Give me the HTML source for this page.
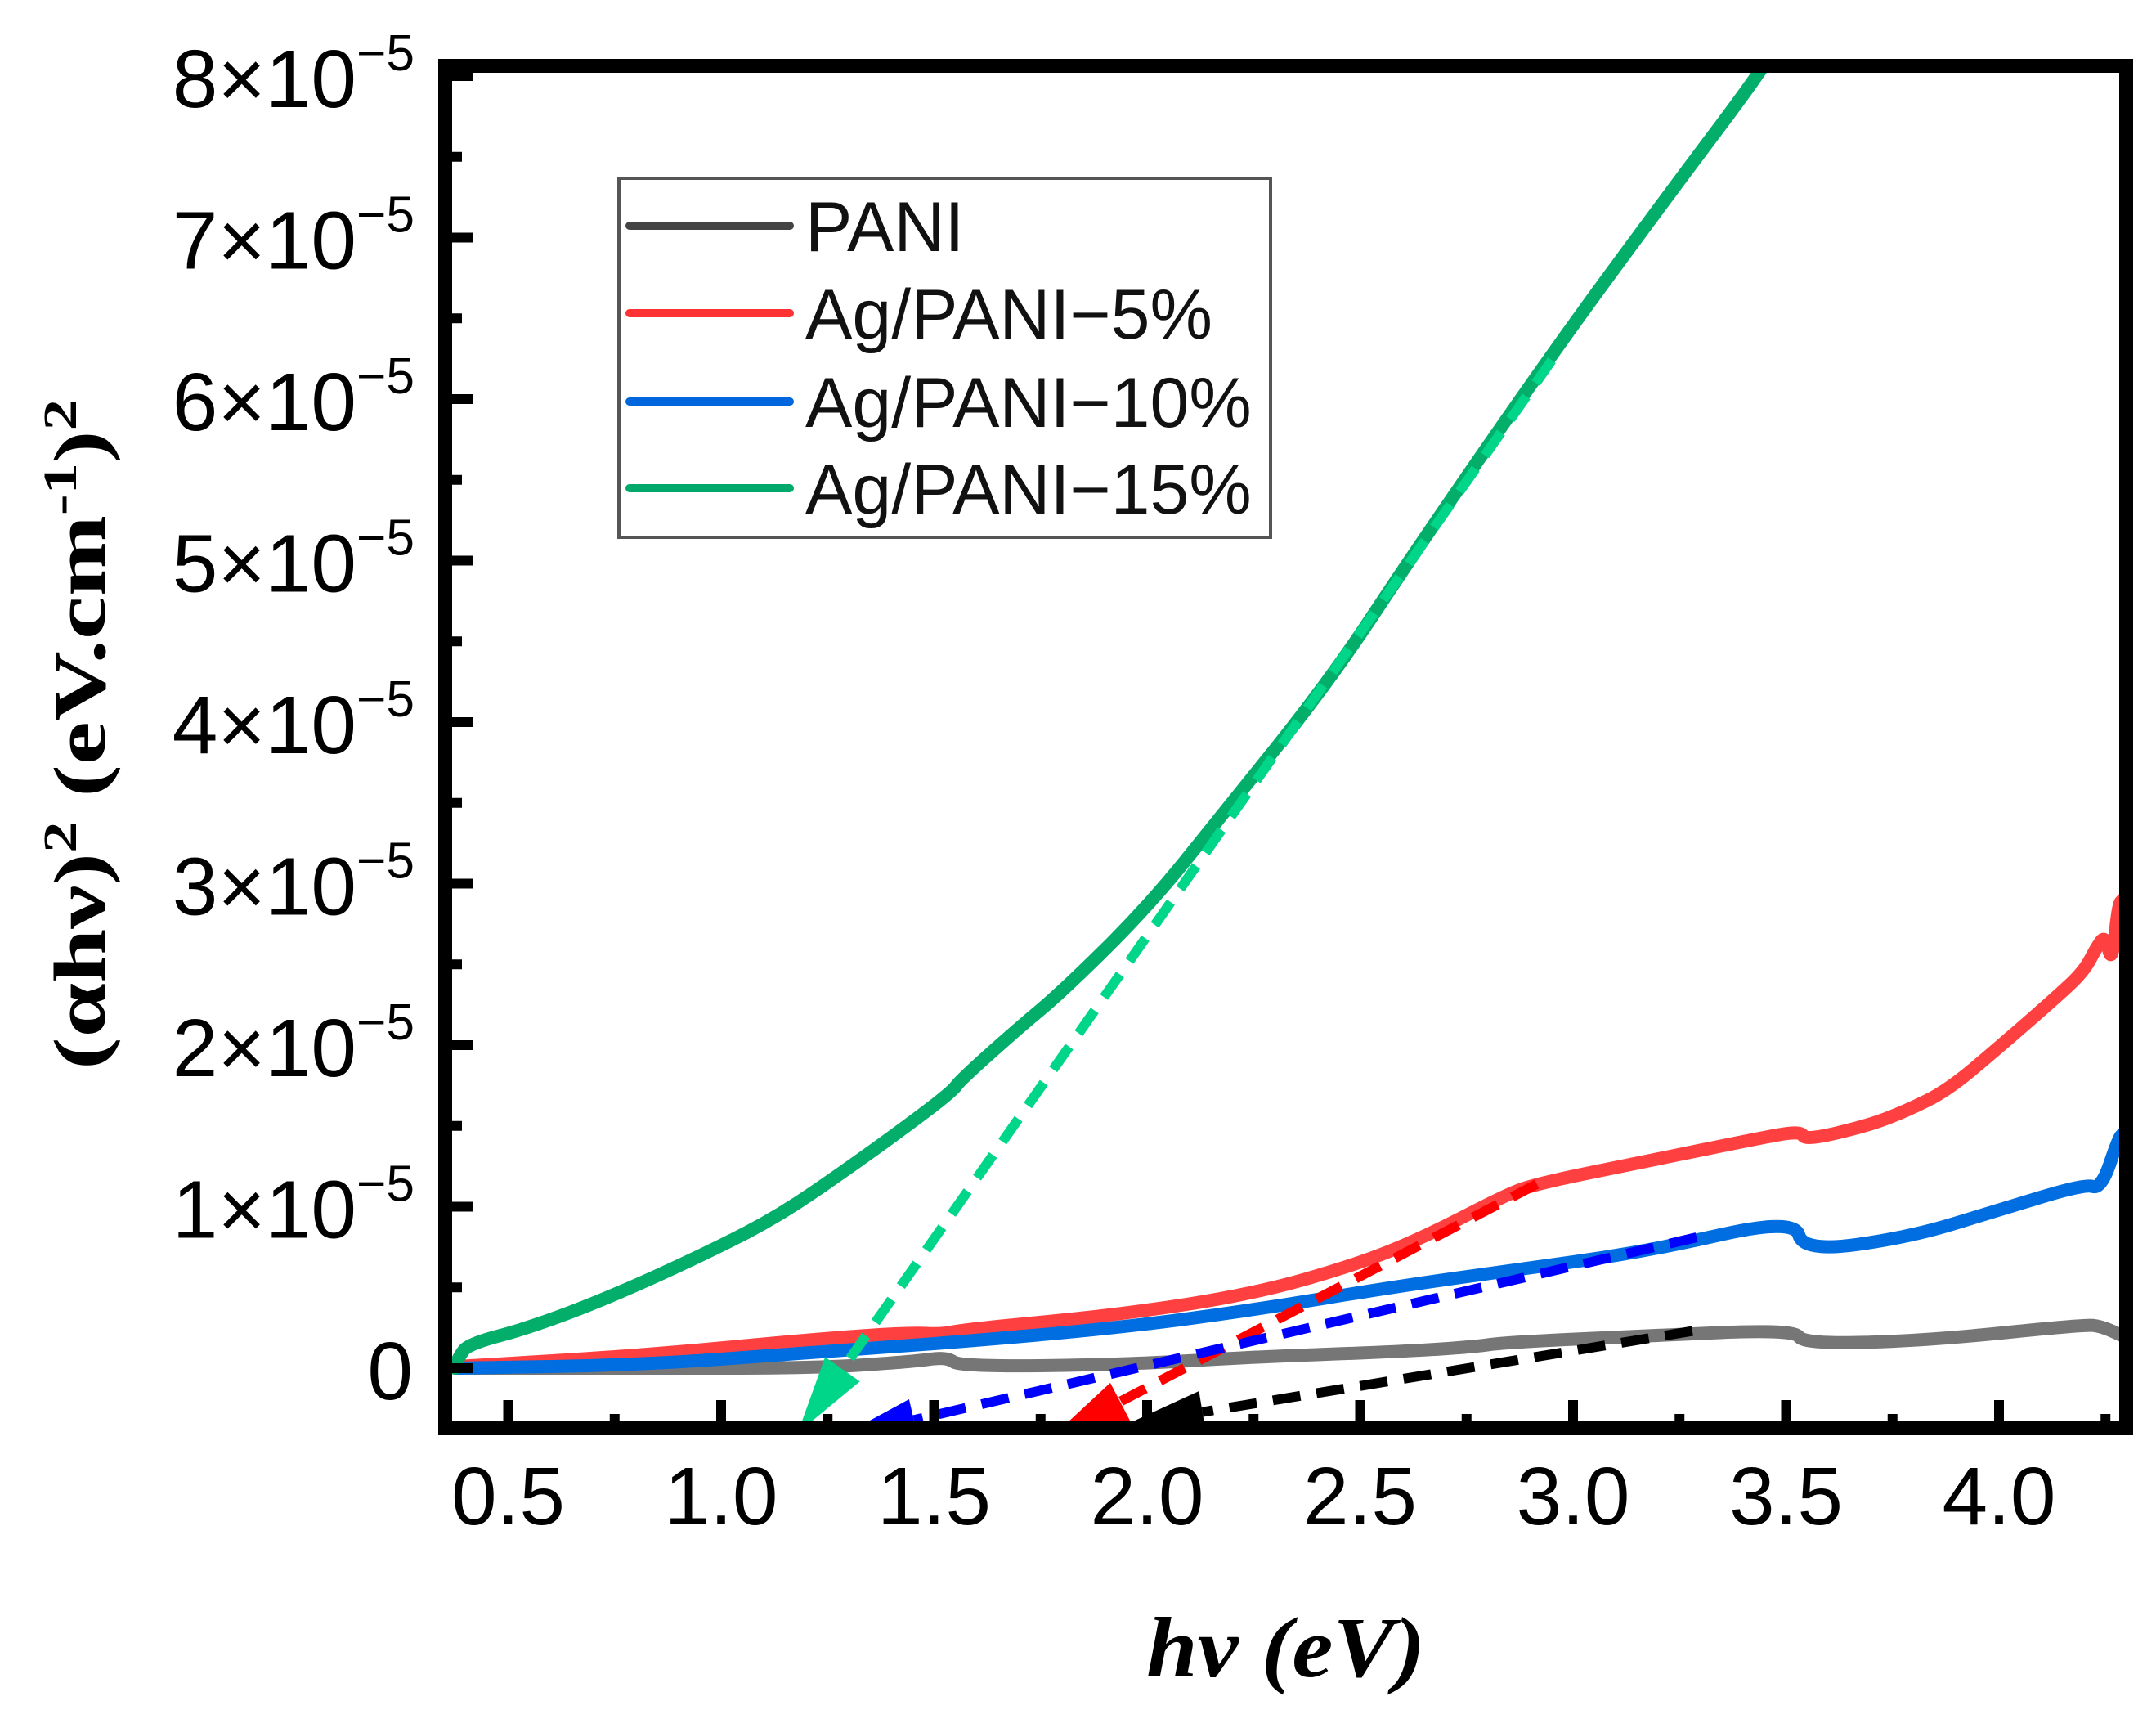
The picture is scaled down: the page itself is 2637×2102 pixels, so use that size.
<!DOCTYPE html>
<html><head><meta charset="utf-8"><style>html,body{margin:0;padding:0;background:#fff}svg{display:block}</style></head>
<body>
<svg id="chart" width="2637" height="2102" viewBox="0 0 2637 2102" xmlns="http://www.w3.org/2000/svg">
<defs><clipPath id="plotclip"><rect x="553" y="89" width="2041" height="1649"/></clipPath></defs>
<g id="ylabels"></g>
<g id="xlabels"></g>
<g id="series" clip-path="url(#plotclip)"></g>
<g id="ticks"></g>
<rect x="544.5" y="80.5" width="2056" height="1666" fill="none" stroke="#000" stroke-width="17"/>
<text x="1402" y="2050" font-family="Liberation Serif, serif" font-weight="bold" font-style="italic" font-size="105" textLength="341" lengthAdjust="spacingAndGlyphs">hν (eV)</text>
<text transform="translate(128,1308) rotate(-90)" font-family="Liberation Serif, serif" font-weight="bold" font-size="90" textLength="820" lengthAdjust="spacingAndGlyphs">(αhν)<tspan dy="-35" font-size="58">2</tspan><tspan dy="35"> (eV.cm</tspan><tspan dy="-35" font-size="58">-1</tspan><tspan dy="35">)</tspan><tspan dy="-35" font-size="58">2</tspan></text>
<g>
<rect x="757" y="218" width="797" height="439" fill="#fff" stroke="#555" stroke-width="4"/>
<g id="legend-items"></g>
</g>
</svg>
<script>
const ns="http://www.w3.org/2000/svg";
function X(e){return 621.5+(e-0.5)*521;}
function Y(v){return 1673-v*197.5;}
const xTicks=[0.5,1.0,1.5,2.0,2.5,3.0,3.5,4.0];
const xTickLabels=["0.5","1.0","1.5","2.0","2.5","3.0","3.5","4.0"];
const yTicks=[0,1,2,3,4,5,6,7,8];
const yTickLabels=["0","1","2","3","4","5","6","7","8"];
const seriesNames=["PANI","Ag/PANI−5%","Ag/PANI−10%","Ag/PANI−15%"];
const seriesColors=["#767676","#ff4040","#006ee0","#03ae6b"];
const legendColors=["#444","#ff3333","#0066dd","#00a86b"];
const paniX=[0.38,0.8,1.22,1.45,1.53,1.56,1.935,2.25,2.57,2.76,2.84,3.17,3.52,3.54,3.83,4.2,4.24,4.29];
const paniY=[0.0,0.0,0.0,0.04,0.07,0.01,0.02,0.07,0.10,0.13,0.16,0.20,0.24,0.15,0.17,0.27,0.26,0.20];
const ag5X=[0.38,0.82,1.22,1.44,1.52,1.57,1.935,2.25,2.49,2.65,2.84,2.91,3.17,3.43,3.535,3.545,3.69,3.78,3.88,4.01,4.14,4.20,4.23,4.25,4.265,4.28,4.29];
const ag5Y=[0.01,0.08,0.18,0.22,0.21,0.24,0.33,0.46,0.64,0.81,1.07,1.14,1.28,1.42,1.47,1.41,1.50,1.59,1.72,2.01,2.31,2.46,2.61,2.68,2.50,2.87,2.9];
const ag10X=[0.38,0.82,1.22,1.55,1.935,2.25,2.57,2.84,3.17,3.52,3.54,3.79,4.0,4.2,4.24,4.28,4.29];
const ag10Y=[0.0,0.02,0.10,0.16,0.25,0.36,0.50,0.60,0.72,0.93,0.72,0.81,0.98,1.14,1.11,1.42,1.45];
const ag15X=[0.375,0.384,0.407,0.55,0.74,0.98,1.14,1.30,1.457,1.545,1.56,1.70,1.80,2.0,2.175,2.43,2.63,2.95,3.22,3.445,3.5];
const ag15Y=[0.0,0.07,0.15,0.25,0.44,0.73,0.95,1.24,1.54,1.72,1.78,2.11,2.33,2.85,3.42,4.26,5.06,6.28,7.25,8.04,8.3];
const seriesX=[paniX,ag5X,ag10X,ag15X];
const seriesY=[paniY,ag5Y,ag10Y,ag15Y];
const fitStartX=[3.28,2.915,3.29,2.95];
const fitStartY=[0.23,1.14,0.81,6.24];
const fitTipX=[1.95,1.775,1.275,1.18];
const fitTipY=[-0.35,-0.43,-0.43,-0.40];
const fitColors=["#000000","#ff0000","#0000ff","#00d68a"];
const fitNames=["pani-fit","ag5-fit","ag10-fit","ag15-fit"];
const seriesKeys=["pani","ag5","ag10","ag15"];

const sg=document.getElementById('series');
const tg=document.getElementById('ticks');
const yl=document.getElementById('ylabels');
const xl=document.getElementById('xlabels');
const lg=document.getElementById('legend-items');
function mk(tag,attrs,parent){const e=document.createElementNS(ns,tag);for(const k in attrs)e.setAttribute(k,attrs[k]);parent.appendChild(e);return e;}

for(let i=0;i<=16;i++){
  const v=i/2, major=i%2===0;
  const t=mk('line',{x1:553,x2:553+(major?26:12),y1:Y(v),y2:Y(v),stroke:'#000','stroke-width':12},tg);
  
  
}
for(let i=0;i<16;i++){
  const e=0.5+i*0.25, major=i%2===0;
  if(X(e)>2594) continue;
  const t=mk('line',{x1:X(e),x2:X(e),y1:1738,y2:1738-(major?26:9),stroke:'#000','stroke-width':12},tg);
  
  
}
yTicks.forEach((v,i)=>{
  const t=mk('text',{x:v===0?505:436,y:Y(v)+38,'text-anchor':'end','font-family':'Liberation Sans, sans-serif','font-size':100,fill:'#000'},yl);
  
  
  if(v===0){t.textContent=yTickLabels[i];}
  else{
    t.textContent=yTickLabels[i]+'×10';
    const s=mk('text',{x:436,y:Y(v)-7,'font-family':'Liberation Sans, sans-serif','font-size':62,fill:'#000',textLength:71,lengthAdjust:'spacingAndGlyphs'},yl);
    
    
    s.textContent='−5';
  }
});
xTicks.forEach((e,i)=>{
  const t=mk('text',{x:X(e),y:1864,'text-anchor':'middle','font-family':'Liberation Sans, sans-serif','font-size':100,fill:'#000'},xl);
  
  
  t.textContent=xTickLabels[i];
});
// smoothed path through midpoints
function smoothPath(xs,ys){
  const P=xs.map((x,i)=>[X(x),Y(ys[i])]);
  let d='M'+P[0][0].toFixed(1)+' '+P[0][1].toFixed(1);
  if(P.length<3){return d+' L'+P[1][0]+' '+P[1][1];}
  let m=[(P[0][0]+P[1][0])/2,(P[0][1]+P[1][1])/2];
  d+=' L'+m[0].toFixed(1)+' '+m[1].toFixed(1);
  for(let i=1;i<P.length-1;i++){
    const n=[(P[i][0]+P[i+1][0])/2,(P[i][1]+P[i+1][1])/2];
    d+=' Q'+P[i][0].toFixed(1)+' '+P[i][1].toFixed(1)+' '+n[0].toFixed(1)+' '+n[1].toFixed(1);
  }
  const L=P[P.length-1];
  return d+' L'+L[0].toFixed(1)+' '+L[1].toFixed(1);
}
seriesX.forEach((xs,s)=>{
  const p=mk('path',{d:smoothPath(xs,seriesY[s]),fill:'none',stroke:seriesColors[s],'stroke-width':16,'stroke-linejoin':'round','stroke-linecap':'round'},sg);
  
  
});
fitStartX.forEach((sx,i)=>{
  const x1=X(sx),y1=Y(fitStartY[i]),x2=X(fitTipX[i]),y2=Y(fitTipY[i]);
  const dx=x2-x1,dy=y2-y1,L=Math.hypot(dx,dy),ux=dx/L,uy=dy/L;
  const bx=x2-ux*95,by=y2-uy*95;
  const l=mk('line',{x1:x1,y1:y1,x2:bx,y2:by,stroke:fitColors[i],'stroke-width':12,'stroke-dasharray':'34 20'},sg);
  
  
  const px=-uy*26,py=ux*26;
  const a=mk('polygon',{points:`${x2},${y2} ${bx+px},${by+py} ${bx-px},${by-py}`,fill:fitColors[i]},sg);
  
  
});
const legY=[276,383,491,597];
seriesNames.forEach((n,i)=>{
  const l=mk('line',{x1:770,x2:966,y1:legY[i],y2:legY[i],stroke:legendColors[i],'stroke-width':10,'stroke-linecap':'round'},lg);
  
  
  const t=mk('text',{x:985,y:legY[i]+31,'font-family':'Liberation Sans, sans-serif','font-size':86,fill:'#111'},lg);
  
  
  t.textContent=n;
});
</script>
</body></html>
